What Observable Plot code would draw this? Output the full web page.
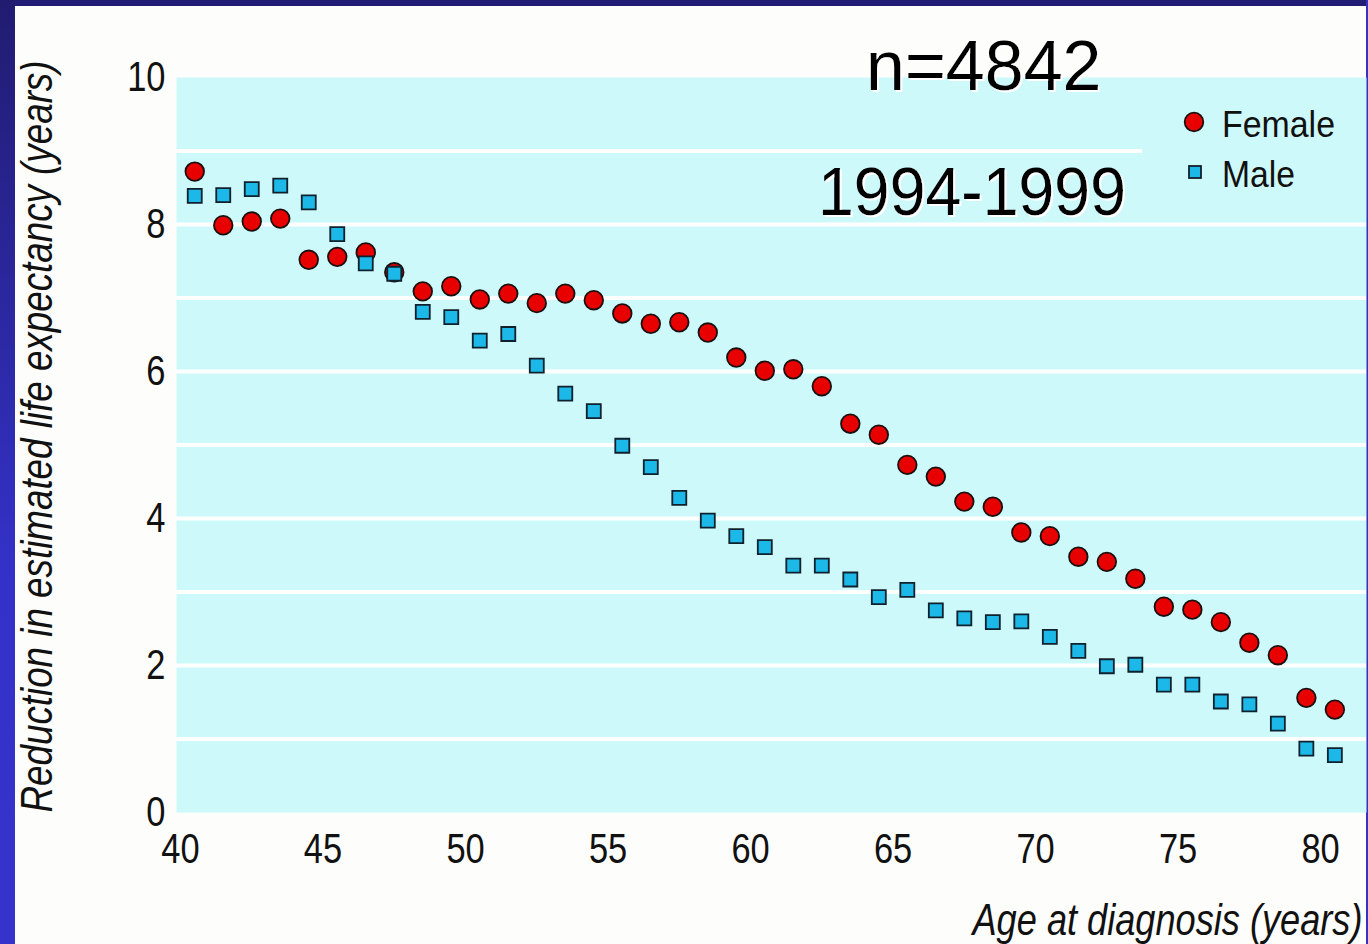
<!DOCTYPE html>
<html>
<head>
<meta charset="utf-8">
<script src="https://cdn.jsdelivr.net/npm/d3@7"></script>
<script src="https://cdn.jsdelivr.net/npm/@observablehq/plot@0.6"></script>
<style>
  html, body { margin: 0; padding: 0; background: #fdfdfb; }
  #wrap { position: relative; width: 1368px; height: 944px; overflow: hidden; background: #fdfdfb; }
  #topbar { position: absolute; left: 0; top: 0; width: 1368px; height: 6px; background: #221d74; }
  #leftbar { position: absolute; left: 0; top: 0; width: 15px; height: 944px; background: linear-gradient(#211c70, #3431c8 60%, #3633cc); }
  #rightbar { position: absolute; left: 1366px; top: 0; width: 2px; height: 944px; background: #3431c4; }
  #chart { position: absolute; left: 0; top: 0; }
  #overlay { position: absolute; left: 0; top: 0; }
</style>
</head>
<body>
<div id="wrap">
  <div id="topbar"></div>
  <div id="leftbar"></div>
  <div id="rightbar"></div>
  <div id="chart"></div>
  <svg id="overlay" width="1368" height="944"></svg>
</div>
<script>
// ---- data ----
const ages = [40.5, 41.5, 42.5, 43.5, 44.5, 45.5, 46.5, 47.5, 48.5, 49.5,
              50.5, 51.5, 52.5, 53.5, 54.5, 55.5, 56.5, 57.5, 58.5, 59.5,
              60.5, 61.5, 62.5, 63.5, 64.5, 65.5, 66.5, 67.5, 68.5, 69.5,
              70.5, 71.5, 72.5, 73.5, 74.5, 75.5, 76.5, 77.5, 78.5, 79.5, 80.5];
const female = [8.72, 7.99, 8.04, 8.08, 7.52, 7.56, 7.62, 7.35, 7.09, 7.16,
                6.98, 7.06, 6.93, 7.06, 6.97, 6.79, 6.65, 6.67, 6.53, 6.19,
                6.01, 6.03, 5.80, 5.29, 5.14, 4.73, 4.57, 4.23, 4.16, 3.81,
                3.76, 3.48, 3.41, 3.18, 2.80, 2.76, 2.59, 2.31, 2.14, 1.56, 1.40];
const male = [8.39, 8.40, 8.48, 8.53, 8.30, 7.87, 7.47, 7.33, 6.81, 6.74,
              6.42, 6.51, 6.08, 5.70, 5.46, 4.99, 4.70, 4.28, 3.97, 3.76,
              3.61, 3.36, 3.36, 3.17, 2.93, 3.03, 2.75, 2.64, 2.59, 2.60,
              2.39, 2.20, 1.99, 2.01, 1.74, 1.74, 1.51, 1.47, 1.21, 0.87, 0.78];
const xTicks = [40, 45, 50, 55, 60, 65, 70, 75, 80];
const yTicks = [0, 2, 4, 6, 8, 10];
const gridValues = [1, 2, 3, 4, 5, 6, 7, 8, 9];
const seriesNames = ["Female", "Male"];
const xTitle = "Age at diagnosis (years)";
const yTitle = "Reduction in estimated life expectancy (years)";
const annotations = ["n=4842", "1994-1999"];

const FONT = "'Liberation Sans', Arial, sans-serif";
const NARROW_RATIO = 0.82;
const FEMALE_FILL = "#e80000";
const MALE_FILL = "#1cb8e8";
const X_DOMAIN = [39.86, 81.61];

const femaleRows = ages.map((a, i) => ({age: a, value: female[i]}));
const maleRows = ages.map((a, i) => ({age: a, value: male[i]}));

const chart = Plot.plot({
  width: 1368,
  height: 944,
  marginLeft: 176,
  marginRight: 2,
  marginTop: 77,
  marginBottom: 132,
  x: {domain: X_DOMAIN},
  y: {domain: [0, 10]},
  style: {fontFamily: FONT, fontSize: "42px", background: "transparent", color: "#111"},
  marks: [
    Plot.frame({fill: "#cdf9fa", stroke: null}),
    Plot.ruleY(gridValues, {y: d => d, x1: X_DOMAIN[0], x2: d => d === 9 ? 73.75 : X_DOMAIN[1], stroke: "#ffffff", strokeWidth: 4}),
    Plot.axisX({ticks: xTicks, tickSize: 0, tickPadding: 21, fontSize: 42, label: null, fill: "#111"}),
    Plot.axisY({ticks: yTicks, tickSize: 0, tickPadding: 11, fontSize: 42, label: null, fill: "#111"}),
    Plot.dot(femaleRows, {x: "age", y: "value", r: 9.3, fill: FEMALE_FILL, stroke: "#1a1010", strokeWidth: 1.8}),
    Plot.dot(maleRows, {x: "age", y: "value", symbol: "square", r: 7.9, fill: MALE_FILL, stroke: "#10202c", strokeWidth: 1.8}),
    Plot.text([yTitle], {text: d => d, frameAnchor: "bottom-left", rotate: -90, textAnchor: "start", lineAnchor: "bottom", dx: -125, dy: 0, fontStyle: "italic", fontSize: 44, fill: "#111"}),
    Plot.text([xTitle], {text: d => d, frameAnchor: "bottom-right", textAnchor: "end", lineAnchor: "bottom", dx: -4, dy: 122, fontStyle: "italic", fontSize: 44, fill: "#111"})
  ]
});
document.getElementById("chart").appendChild(chart);

// emulate the condensed typeface of the original by compressing glyphs horizontally
d3.select(chart).selectAll("text").each(function() {
  const t = this.textContent;
  let len;
  if (t === yTitle) len = 752;
  else if (t === xTitle) len = 390;
  else len = this.getComputedTextLength() * NARROW_RATIO;
  this.setAttribute("textLength", len);
  this.setAttribute("lengthAdjust", "spacingAndGlyphs");
});

// ---- overlay: annotations + legend ----
const ov = d3.select("#overlay");
const defs = ov.append("defs");
const f = defs.append("filter").attr("id", "wshadow").attr("x", "-10%").attr("y", "-10%").attr("width", "130%").attr("height", "130%");
f.append("feDropShadow").attr("dx", 2).attr("dy", 2).attr("stdDeviation", 0.6).attr("flood-color", "#ffffff").attr("flood-opacity", 1);

ov.append("text").attr("x", 866).attr("y", 90).attr("font-family", FONT).attr("font-size", 70)
  .attr("fill", "#000").attr("filter", "url(#wshadow)").text(annotations[0]);
ov.append("text").attr("x", 818).attr("y", 215).attr("font-family", FONT).attr("font-size", 68)
  .attr("textLength", 308).attr("lengthAdjust", "spacingAndGlyphs")
  .attr("fill", "#000").attr("filter", "url(#wshadow)").text(annotations[1]);

const lg = ov.append("g").attr("font-family", FONT).attr("font-size", 37).attr("fill", "#111");
lg.append("circle").attr("cx", 1194).attr("cy", 122).attr("r", 9.3).attr("fill", FEMALE_FILL).attr("stroke", "#1a1010").attr("stroke-width", 1.8);
lg.append("rect").attr("x", 1189).attr("y", 166).attr("width", 12).attr("height", 12).attr("fill", MALE_FILL).attr("stroke", "#10202c").attr("stroke-width", 1.8);
lg.append("text").attr("x", 1222).attr("y", 137).attr("textLength", 113).attr("lengthAdjust", "spacingAndGlyphs").text(seriesNames[0]);
lg.append("text").attr("x", 1222).attr("y", 187).attr("textLength", 73).attr("lengthAdjust", "spacingAndGlyphs").text(seriesNames[1]);
</script>
</body>
</html>
